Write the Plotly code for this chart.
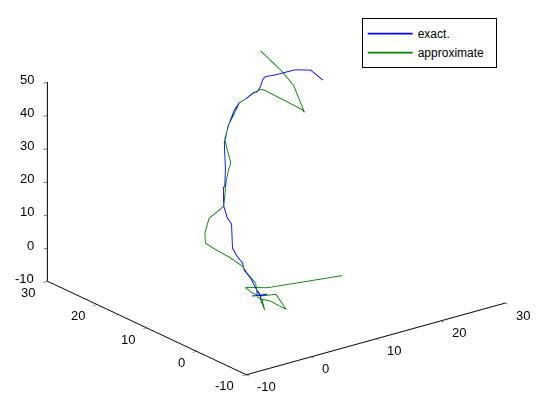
import plotly.graph_objects as go

# exact trajectory
exact_x = [0.2, 1.3, 0.1, -1.0, 0.2, 0.3, 0.2, -0.1, 0.2,
           0.1, 0.1, -0.3, 0.0, -0.3, -0.4, 1.0, 1.1, 1.4, 2.8, 3.1, 4.5,
           6.4, 7.0, 8.1, 10.3, 11.7, 13.0, 14.7, 15.3, 16.2, 17.0, 17.7, 19.3,
           21.3, 22.8, 25.2, 26.3]
exact_y = [0.5, 0.5, 0.5, 0.6, 0.5, 0.4, 0.5, 0.6, 0.5,
           1.3, 2.3, 3.1, 3.8, 4.4, 5.3, 7.3, 8.3, 9.4, 11.3, 11.4, 13.1,
           15.8, 16.3, 17.3, 18.9, 19.7, 20.1, 20.7, 20.8, 21.3, 21.9, 22.3, 22.4,
           22.7, 22.9, 22.9, 21.9]
exact_z = [1.0, 0.8, 1.1, 1.4, 1.0, -1.1, 1.1, 2.5, 0.9,
           2.7, 5.0, 7.1, 8.6, 10.1, 12.2, 17.3, 18.4, 21.0, 24.5, 24.7, 27.8,
           33.0, 33.8, 35.7, 38.3, 39.3, 39.5, 40.1, 39.9, 40.6, 41.8, 42.1, 41.7,
           41.3, 41.0, 39.6, 36.7]

# approximate trajectory
approx_x = [14.3, 2.0, -1.4, -0.8, 0.2, 2.7, 3.2, 1.3, 0.0, -0.2, 0.2, -0.3,
            0.5, -0.1, -0.3, -1.6, -3.1, -4.2, -3.5, -1.7, 0.1, 1.4,
            3.7, 5.0, 5.8, 6.4, 6.7, 8.5, 10.1, 11.7, 13.0, 14.7, 16.0, 16.5,
            20.8, 21.0, 21.4, 20.7, 18.9]
approx_y = [2.4, 1.3, 1.4, 0.8, 0.5, 0.6, -0.8, 0.0, 0.2, -0.9, 0.1, 0.4,
            1.8, 2.8, 3.4, 4.4, 5.1, 5.8, 6.8, 8.3, 8.9, 9.4,
            11.9, 13.1, 13.7, 15.4, 16.1, 17.6, 18.6, 19.7, 20.1, 20.7, 21.0, 20.9,
            18.9, 18.7, 21.4, 22.8, 24.8]
approx_z = [-2.0, 1.8, 3.6, 2.1, 0.8, -0.1, -3.9, -0.9, 0.3, -2.2, -0.1, 0.9,
            3.6, 6.3, 8.0, 10.8, 13.3, 15.4, 17.4, 19.8, 20.5, 21.0,
            25.6, 27.5, 28.6, 32.2, 33.6, 36.2, 37.7, 39.3, 39.5, 40.0, 40.1, 39.7,
            32.9, 32.1, 38.1, 41.7, 47.5]

xy_ticks = [-10, 0, 10, 20, 30]
z_ticks = [-10, 0, 10, 20, 30, 40, 50]

FONT = dict(family='Arial, Liberation Sans, sans-serif', size=13, color='black')
NB = '\u00a0'


def axis(rng, ticks):
    return dict(
        range=rng, tickvals=ticks, autorange=False,
        showgrid=False, showbackground=False, zeroline=False,
        showline=True, linecolor='black', linewidth=2,
        ticks='outside', ticklen=5, tickcolor='black',
        showticklabels=False,
        title=dict(text=''), showspikes=False,
    )


# tick labels placed like MATLAB's: below the floor edges, left of the z edge
labels = []
for v in xy_ticks:
    labels.append(dict(x=v, y=-10, z=-10, text=str(v), showarrow=False,
                       xanchor='left', yanchor='middle', xshift=9, yshift=-12, font=FONT))
    labels.append(dict(x=-10, y=v, z=-10, text=str(v), showarrow=False,
                       xanchor='right', yanchor='middle', xshift=-10, yshift=-11, font=FONT))
for v in z_ticks:
    labels.append(dict(x=-10, y=30, z=v, text=str(v), showarrow=False,
                       xanchor='right', yanchor='middle', xshift=-11, yshift=3, font=FONT))

fig = go.Figure()
fig.add_trace(go.Scatter3d(
    x=exact_x, y=exact_y, z=exact_z, mode='lines',
    line=dict(color='#0000FF', width=1.8), name='exact.', hoverinfo='skip',
))
fig.add_trace(go.Scatter3d(
    x=approx_x, y=approx_y, z=approx_z, mode='lines',
    line=dict(color='#008000', width=1.8), name='approximate' + NB * 2, hoverinfo='skip',
))

kxy, kz = 1.684, 1.10
c = dict(x=-0.0223, y=-0.0040, z=-0.0455)
eye = dict(x=-0.568 * 1.6, y=-0.740 * 1.6, z=0.361 * 1.6)
fig.update_layout(
    width=540, height=403,
    paper_bgcolor='white', plot_bgcolor='white',
    margin=dict(l=0, r=0, t=0, b=0),
    font=FONT,
    scene=dict(
        domain=dict(x=[0, 0.983], y=[0.037, 1.0]),
        xaxis=axis([-10, 30], xy_ticks),
        yaxis=axis([-10, 30], xy_ticks),
        zaxis=axis([-10, 50], z_ticks),
        aspectmode='manual', aspectratio=dict(x=kxy, y=kxy, z=kz),
        camera=dict(
            eye={a: eye[a] + c[a] for a in 'xyz'},
            up=dict(x=0, y=0, z=1), center=c,
            projection=dict(type='orthographic'),
        ),
        annotations=labels,
    ),
    legend=dict(
        x=0.655, y=0.975, xanchor='left', yanchor='top',
        bordercolor='black', borderwidth=1, bgcolor='white',
        font=dict(FONT, size=12), tracegroupgap=0, itemwidth=45,
    ),
)

fig.write_html("out.html", config=dict(displayModeBar=False))
